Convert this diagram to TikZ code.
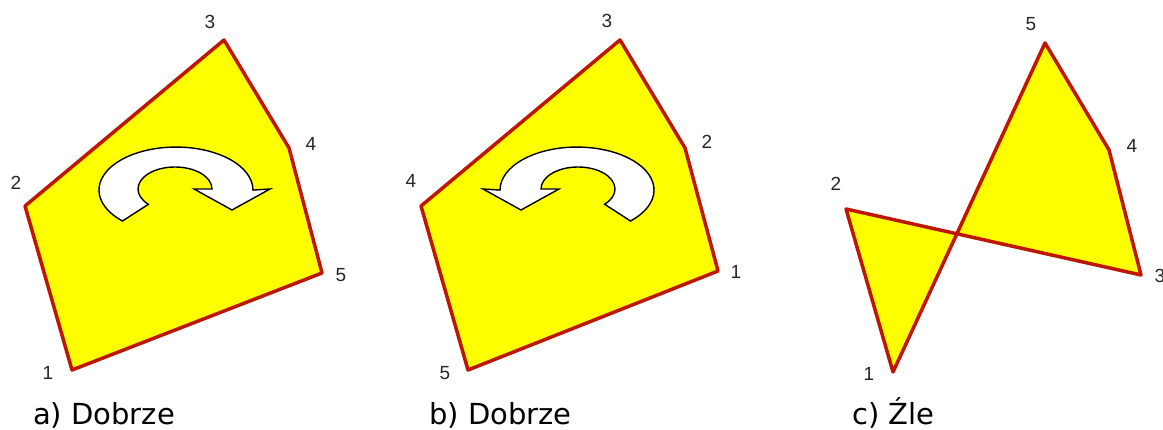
\documentclass[tikz,border=0pt]{standalone}
\usepackage{fontspec}
\setmainfont{DejaVu Sans}
\newfontfamily\labfont{Liberation Sans}
\definecolor{polyred}{RGB}{190,22,0}
\definecolor{polyyellow}{RGB}{255,255,0}
\tikzset{
  poly/.style={draw=polyred, fill=polyyellow, line width=3.5pt, line join=round},
  vlabel/.style={font=\labfont\fontsize{19}{19}\selectfont, inner sep=0pt, text=black!85},
  caption/.style={font=\fontsize{29}{29}\selectfont, anchor=base west, inner sep=0pt},
  turnarrow/.style={draw=black, fill=white, line width=1.4pt, line join=miter}
}
\newcommand{\turnshape}{%
  (122.5,221) arc[start angle=134, end angle=360, x radius=77, y radius=43]
  -- (270,189) -- (232,210) -- (194,189) -- (212,189)
  arc[start angle=360, end angle=136, x radius=37, y radius=22] -- cycle}
\begin{document}
\begin{tikzpicture}[x=1pt, y=-1pt]
\useasboundingbox (0,0) rectangle (1163,430);
% ---- a)
\coordinate (a1) at (72,370);
\coordinate (a2) at (25,206);
\coordinate (a3) at (224,40);
\coordinate (a4) at (289,148);
\coordinate (a5) at (322,273);
\draw[poly] (a1) -- (a2) -- (a3) -- (a4) -- (a5) -- cycle;
\node[vlabel] (la1) at (48,373) {1};
\node[vlabel] (la2) at (16,183) {2};
\node[vlabel] (la3) at (210,22) {3};
\node[vlabel] (la4) at (311,144) {4};
\node[vlabel] (la5) at (341,275) {5};
\draw[turnarrow] \turnshape;
\node[caption] (ca) at (33,425) {a) Dobrze};
% ---- b)
\coordinate (b5) at (468,370);
\coordinate (b4) at (421,206);
\coordinate (b3) at (620,40);
\coordinate (b2) at (685,148);
\coordinate (b1) at (718,271);
\draw[poly] (b1) -- (b2) -- (b3) -- (b4) -- (b5) -- cycle;
\node[vlabel] (lb5) at (445,373) {5};
\node[vlabel] (lb4) at (411,181) {4};
\node[vlabel] (lb3) at (607,21) {3};
\node[vlabel] (lb2) at (707,142) {2};
\node[vlabel] (lb1) at (736,272) {1};
\begin{scope}[shift={(753,0)}, xscale=-1]
\draw[turnarrow] \turnshape;
\end{scope}
\node[caption] (cb) at (429,425) {b) Dobrze};
% ---- c)
\coordinate (c1) at (893,372);
\coordinate (c2) at (846,209);
\coordinate (c3) at (1141,275);
\coordinate (c4) at (1109,150);
\coordinate (c5) at (1045,43);
\draw[poly] (c1) -- (c2) -- (c3) -- (c4) -- (c5) -- cycle;
\node[vlabel] (lc1) at (869,374) {1};
\node[vlabel] (lc2) at (836,184) {2};
\node[vlabel] (lc3) at (1160,276) {3};
\node[vlabel] (lc4) at (1132,146) {4};
\node[vlabel] (lc5) at (1031,24) {5};
\node[caption] (cc) at (852,425) {c) Źle};
\end{tikzpicture}
\end{document}
